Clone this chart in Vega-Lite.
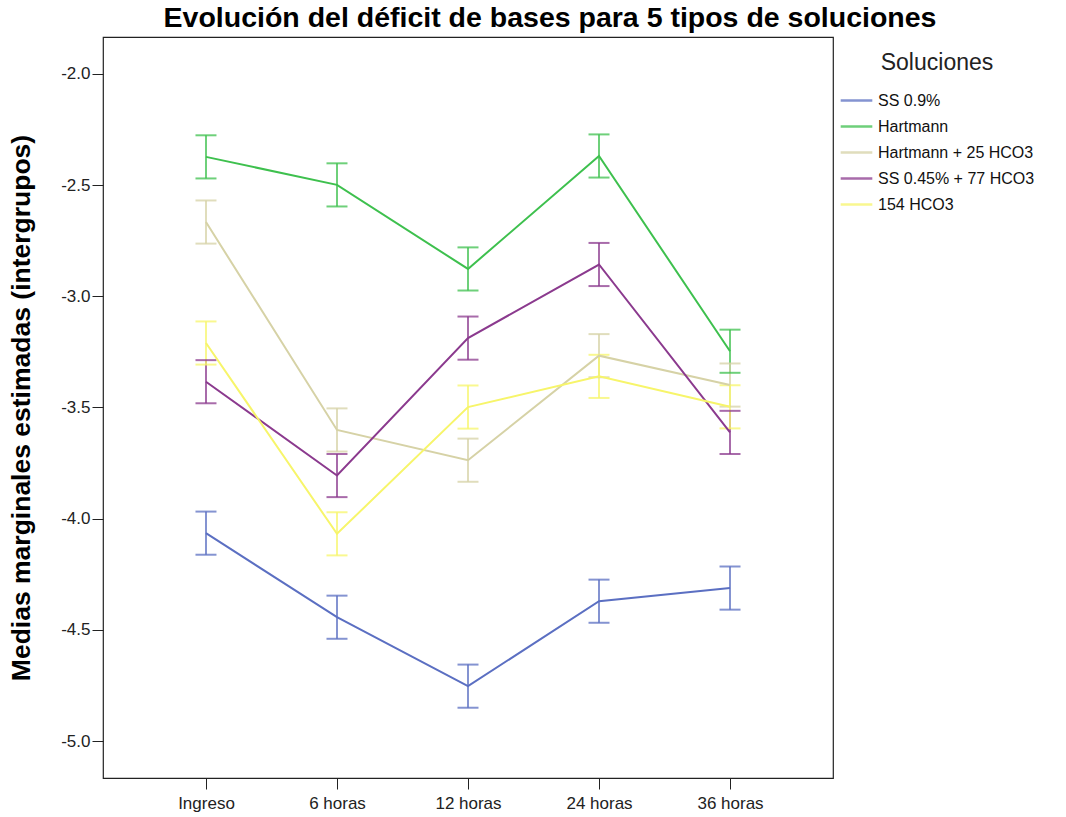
{
  "$schema": "https://vega.github.io/schema/vega-lite/v6.json",
  "width": 730,
  "height": 741,
  "autosize": "none",
  "padding": {"left": 103, "top": 37, "right": 233, "bottom": 39},
  "background": "white",
  "title": {"text": "Evolución del déficit de bases para 5 tipos de soluciones", "font": "Liberation Sans", "fontSize": 28.5, "fontWeight": "bold", "color": "#000", "anchor": "middle", "dx": 82, "offset": 5},
  "config": {
    "view": {"stroke": "#222", "strokeWidth": 1.2},
    "axis": {"labelFont": "Liberation Sans", "labelFontSize": 17, "labelColor": "#222", "tickColor": "#222", "tickSize": 11, "domain": false, "grid": false, "titleFont": "Liberation Sans", "titleFontSize": 26.5, "titleFontWeight": "bold", "titleColor": "#000"},
    "legend": {"symbolType": "stroke"}
  },
  "data": {"values": [
    {"sol": "SS 0.9%", "time": "Ingreso", "mean": -4.065, "lo": -4.162, "hi": -3.968},
    {"sol": "SS 0.9%", "time": "6 horas", "mean": -4.443, "lo": -4.540, "hi": -4.346},
    {"sol": "SS 0.9%", "time": "12 horas", "mean": -4.753, "lo": -4.850, "hi": -4.656},
    {"sol": "SS 0.9%", "time": "24 horas", "mean": -4.371, "lo": -4.468, "hi": -4.274},
    {"sol": "SS 0.9%", "time": "36 horas", "mean": -4.312, "lo": -4.409, "hi": -4.215},
    {"sol": "Hartmann", "time": "Ingreso", "mean": -2.373, "lo": -2.470, "hi": -2.276},
    {"sol": "Hartmann", "time": "6 horas", "mean": -2.499, "lo": -2.596, "hi": -2.402},
    {"sol": "Hartmann", "time": "12 horas", "mean": -2.877, "lo": -2.974, "hi": -2.780},
    {"sol": "Hartmann", "time": "24 horas", "mean": -2.369, "lo": -2.466, "hi": -2.272},
    {"sol": "Hartmann", "time": "36 horas", "mean": -3.247, "lo": -3.344, "hi": -3.150},
    {"sol": "Hartmann + 25 HCO3", "time": "Ingreso", "mean": -2.666, "lo": -2.763, "hi": -2.569},
    {"sol": "Hartmann + 25 HCO3", "time": "6 horas", "mean": -3.601, "lo": -3.698, "hi": -3.504},
    {"sol": "Hartmann + 25 HCO3", "time": "12 horas", "mean": -3.737, "lo": -3.834, "hi": -3.640},
    {"sol": "Hartmann + 25 HCO3", "time": "24 horas", "mean": -3.267, "lo": -3.364, "hi": -3.170},
    {"sol": "Hartmann + 25 HCO3", "time": "36 horas", "mean": -3.399, "lo": -3.496, "hi": -3.302},
    {"sol": "SS 0.45% + 77 HCO3", "time": "Ingreso", "mean": -3.384, "lo": -3.481, "hi": -3.287},
    {"sol": "SS 0.45% + 77 HCO3", "time": "6 horas", "mean": -3.806, "lo": -3.903, "hi": -3.709},
    {"sol": "SS 0.45% + 77 HCO3", "time": "12 horas", "mean": -3.188, "lo": -3.285, "hi": -3.091},
    {"sol": "SS 0.45% + 77 HCO3", "time": "24 horas", "mean": -2.857, "lo": -2.954, "hi": -2.760},
    {"sol": "SS 0.45% + 77 HCO3", "time": "36 horas", "mean": -3.612, "lo": -3.709, "hi": -3.515},
    {"sol": "154 HCO3", "time": "Ingreso", "mean": -3.210, "lo": -3.307, "hi": -3.113},
    {"sol": "154 HCO3", "time": "6 horas", "mean": -4.068, "lo": -4.165, "hi": -3.971},
    {"sol": "154 HCO3", "time": "12 horas", "mean": -3.498, "lo": -3.595, "hi": -3.401},
    {"sol": "154 HCO3", "time": "24 horas", "mean": -3.360, "lo": -3.457, "hi": -3.263},
    {"sol": "154 HCO3", "time": "36 horas", "mean": -3.497, "lo": -3.594, "hi": -3.400}
  ]},
  "encoding": {
    "x": {"field": "time", "type": "ordinal", "sort": ["Ingreso", "6 horas", "12 horas", "24 horas", "36 horas"], "scale": {"type": "point", "padding": 0.786}, "axis": {"title": null, "labelAngle": 0, "labelPadding": 6}},
    "color": {"field": "sol", "type": "nominal", "scale": {"domain": ["SS 0.9%", "Hartmann", "Hartmann + 25 HCO3", "SS 0.45% + 77 HCO3", "154 HCO3"], "range": ["#5B6FC2", "#3EC04E", "#D6D2A6", "#8B3A8E", "#F7F56A"]}, "legend": {"title": "Soluciones", "orient": "none", "legendX": 736, "legendY": 15, "titleFont": "Liberation Sans", "titleFontSize": 23, "titleFontWeight": "normal", "titleColor": "#222", "titleAnchor": "middle", "titlePadding": 8, "labelFont": "Liberation Sans", "labelFontSize": 16, "labelColor": "#111", "symbolSize": 1000, "symbolStrokeWidth": 2.5, "labelOffset": 4, "rowPadding": -8}}
  },
  "layer": [
    {"mark": {"type": "rule", "strokeWidth": 2, "opacity": 0.75}, "encoding": {"y": {"field": "lo", "type": "quantitative", "title": "Medias marginales estimadas (intergrupos)"}, "y2": {"field": "hi"}}},
    {"mark": {"type": "tick", "thickness": 2, "size": 21, "opacity": 0.75}, "encoding": {"y": {"field": "lo", "type": "quantitative", "title": "Medias marginales estimadas (intergrupos)"}}},
    {"mark": {"type": "tick", "thickness": 2, "size": 21, "opacity": 0.75}, "encoding": {"y": {"field": "hi", "type": "quantitative", "title": "Medias marginales estimadas (intergrupos)"}}},
    {"mark": {"type": "line", "strokeWidth": 2}, "encoding": {"y": {"field": "mean", "type": "quantitative", "title": "Medias marginales estimadas (intergrupos)", "scale": {"domain": [-5.166, -1.834], "nice": false, "zero": false}, "axis": {"values": [-5, -4.5, -4, -3.5, -3, -2.5, -2], "labelExpr": "replace(format(datum.value, '.1f'), '−', '-')", "labelPadding": 2, "titlePadding": 25}}}}
  ]
}
